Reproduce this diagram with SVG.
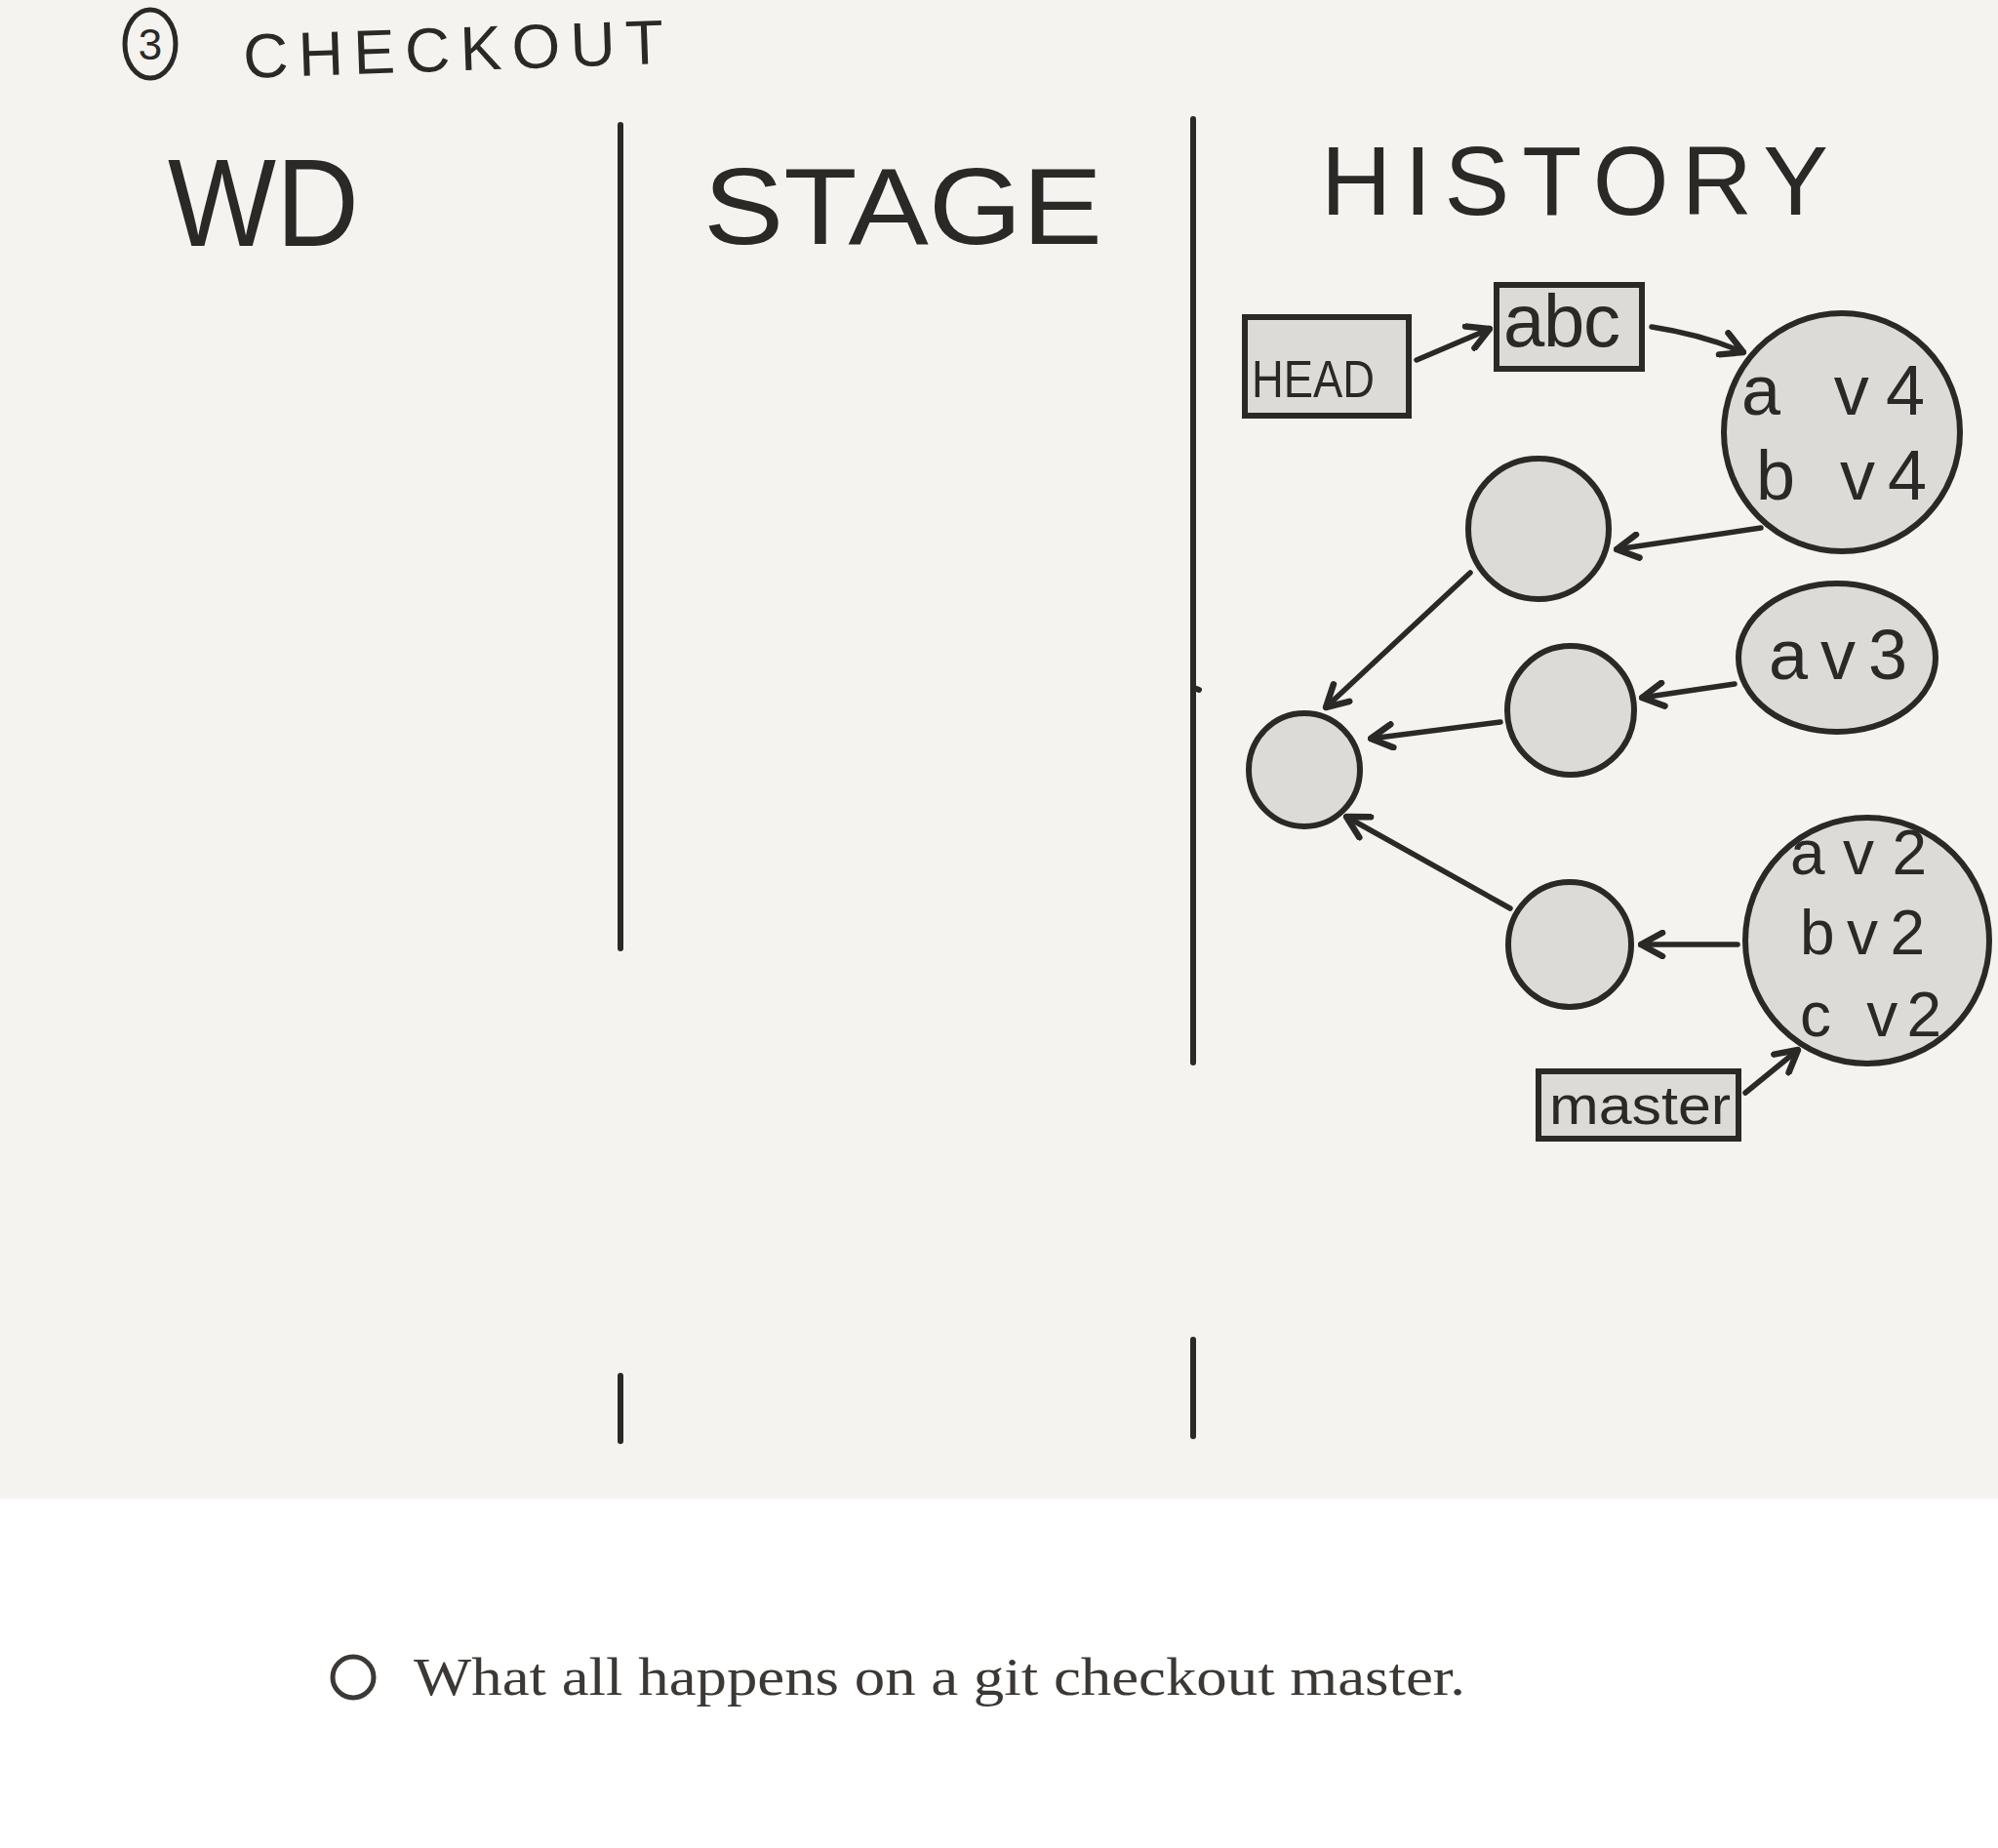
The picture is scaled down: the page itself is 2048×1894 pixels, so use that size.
<svg xmlns="http://www.w3.org/2000/svg" width="2048" height="1894" viewBox="0 0 2048 1894">
<style>
.hand{font-family:"Liberation Sans","DejaVu Sans",sans-serif;fill:#2a2927;}
.node{fill:#dcdbd7;stroke:#2a2927;stroke-width:6;}
.conn{fill:none;stroke:#2a2927;stroke-width:5.5;stroke-linecap:round;}
.rule{stroke:#2a2927;stroke-width:6;stroke-linecap:round;}
</style>
<defs>
<marker id="arr" viewBox="0 0 30 30" refX="27" refY="15" markerWidth="30" markerHeight="30" markerUnits="userSpaceOnUse" orient="auto">
<path d="M5 3 L27 15 L5 27" fill="none" stroke="#2a2927" stroke-width="6.5" stroke-linecap="round" stroke-linejoin="round"/>
</marker>
</defs>
<rect x="0" y="0" width="2048" height="1536" fill="#f4f3ef"/>
<rect x="0" y="1536" width="2048" height="358" fill="#ffffff"/>

<g id="title">
<ellipse cx="154" cy="45" rx="26" ry="35" fill="none" stroke="#2a2927" stroke-width="5"/>
<text class="hand" x="154" y="61" font-size="44" text-anchor="middle">3</text>
<text class="hand" x="250" y="80" font-size="64" textLength="431" lengthAdjust="spacing" transform="rotate(-2 250 80)">CHECKOUT</text>
</g>

<g id="headers">
<text class="hand" x="172" y="252" font-size="128" textLength="196" lengthAdjust="spacingAndGlyphs">WD</text>
<text class="hand" x="721" y="250" font-size="112" textLength="409" lengthAdjust="spacingAndGlyphs">STAGE</text>
<text class="hand" x="1354" y="220" font-size="100" textLength="520" lengthAdjust="spacing">HISTORY</text>
</g>

<g id="rules">
<line class="rule" x1="636" y1="128" x2="636" y2="972"/>
<line class="rule" x1="1223" y1="122" x2="1223" y2="1089"/>
<line class="rule" x1="1224" y1="705" x2="1229" y2="707"/>
<line class="rule" x1="636" y1="1410" x2="636" y2="1477"/>
<line class="rule" x1="1223" y1="1373" x2="1223" y2="1472"/>
</g>

<g id="node-head">
<rect class="node" x="1276" y="325" width="168" height="101"/>
<text class="hand" x="1283" y="407" font-size="54" textLength="126" lengthAdjust="spacingAndGlyphs">HEAD</text>
</g>
<g id="node-abc">
<rect class="node" x="1534" y="292" width="149" height="86"/>
<text class="hand" x="1541" y="355" font-size="76" textLength="120" lengthAdjust="spacing">abc</text>
</g>
<g id="node-v4">
<ellipse class="node" cx="1888" cy="443" rx="121" ry="122"/>
<text class="hand" x="1785" y="425" font-size="72" textLength="188" lengthAdjust="spacing">a v4</text>
<text class="hand" x="1800" y="512" font-size="72" textLength="175" lengthAdjust="spacing">b v4</text>
</g>
<g id="node-c1">
<ellipse class="node" cx="1577" cy="542" rx="72" ry="72"/>
</g>
<g id="node-root">
<ellipse class="node" cx="1337" cy="789" rx="57" ry="58"/>
</g>
<g id="node-c2">
<ellipse class="node" cx="1610" cy="728" rx="65" ry="66"/>
</g>
<g id="node-v3">
<ellipse class="node" cx="1883" cy="674" rx="101" ry="76"/>
<text class="hand" x="1813" y="696" font-size="72" textLength="142" lengthAdjust="spacing">av3</text>
</g>
<g id="node-c3">
<ellipse class="node" cx="1609" cy="968" rx="63" ry="64"/>
</g>
<g id="node-v2">
<ellipse class="node" cx="1914" cy="964" rx="125" ry="126"/>
<text class="hand" x="1835" y="896" font-size="64" textLength="140" lengthAdjust="spacing">av2</text>
<text class="hand" x="1845" y="978" font-size="64" textLength="128" lengthAdjust="spacing">bv2</text>
<text class="hand" x="1845" y="1062" font-size="64" textLength="145" lengthAdjust="spacing">c v2</text>
</g>
<g id="node-master">
<rect class="node" x="1577" y="1098" width="205" height="69"/>
<text class="hand" x="1588" y="1152" font-size="56" textLength="186" lengthAdjust="spacingAndGlyphs">master</text>
</g>

<g id="connectors">
<line class="conn" x1="1452" y1="369" x2="1527" y2="337" marker-end="url(#arr)"/>
<path class="conn" d="M1693 335 Q1745 343 1787 361" marker-end="url(#arr)"/>
<line class="conn" x1="1805" y1="541" x2="1657" y2="563" marker-end="url(#arr)"/>
<line class="conn" x1="1507" y1="587" x2="1359" y2="725" marker-end="url(#arr)"/>
<line class="conn" x1="1538" y1="740" x2="1405" y2="757" marker-end="url(#arr)"/>
<line class="conn" x1="1778" y1="701" x2="1683" y2="715" marker-end="url(#arr)"/>
<line class="conn" x1="1548" y1="931" x2="1380" y2="837" marker-end="url(#arr)"/>
<line class="conn" x1="1781" y1="968" x2="1682" y2="968" marker-end="url(#arr)"/>
<line class="conn" x1="1789" y1="1120" x2="1843" y2="1076" marker-end="url(#arr)"/>
</g>

<g id="caption">
<circle cx="362" cy="1719" r="21" fill="none" stroke="#3b3835" stroke-width="5"/>
<text x="424" y="1737" font-family="'Liberation Serif','DejaVu Serif',serif" font-size="54" fill="#3b3835" textLength="1078" lengthAdjust="spacingAndGlyphs">What all happens on a git checkout master.</text>
</g>
</svg>
